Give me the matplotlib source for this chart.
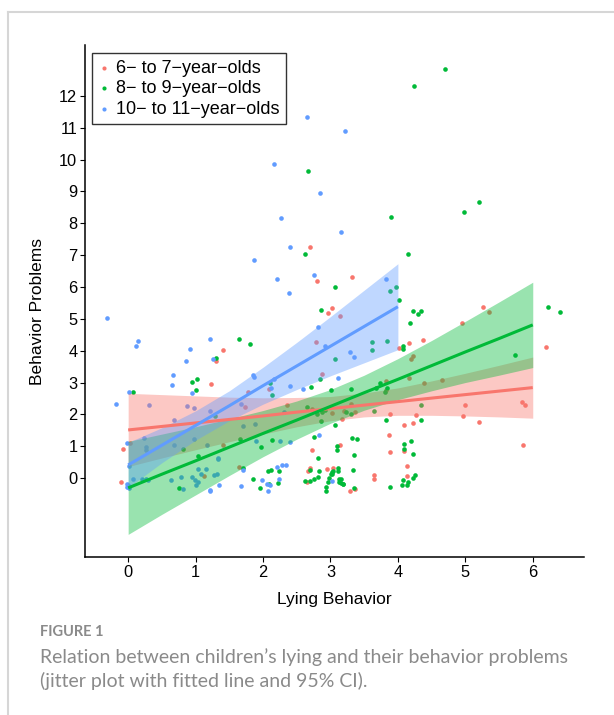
import matplotlib
matplotlib.use('Agg')
import matplotlib.pyplot as plt
from matplotlib.lines import Line2D
import numpy as np

plt.rcParams['font.family'] = ['Liberation Sans', 'DejaVu Sans']

# group names and ggplot-like colours
groups = ['6\u2212 to 7\u2212year\u2212olds', '8\u2212 to 9\u2212year\u2212olds',
          '10\u2212 to 11\u2212year\u2212olds']
colors = ['#F8766D', '#00BA38', '#619CFF']

# jittered points (lying, behavior problems)
red_x = [2.70, 2.80, 3.32, 3.03, 2.97, 3.14, 2.79, 4.01, 4.16, 4.23, 4.19, 2.88, 5.26,
         5.35, 4.95, 6.19, 4.37, 4.17, 4.39, 4.66, 3.83, 3.82, 3.31, 3.03, 3.20, 3.36,
         3.89, 4.27, 4.09, 4.22, 3.17, 5.00, 4.97, 5.20, 5.84, 5.89, 5.86, 3.87, 3.88,
         3.14, 4.09, 4.14, 4.13, 3.65, 3.65, 3.04, 3.37, 3.29, 1.40, 1.30, 1.23, 1.77,
         2.09, 0.03, -0.07, -0.11, 1.40, 1.64, 1.13, 2.72, 2.65, 2.69, 2.67, 2.95, 2.35,
         2.72, 1.74]
red_y = [7.26, 6.18, 6.32, 5.34, 5.17, 5.09, 4.28, 4.09, 4.23, 3.83, 3.73, 3.27, 5.37,
         5.22, 4.87, 4.11, 4.34, 3.15, 2.98, 3.08, 3.05, 2.76, 2.32, 2.05, 2.10, 2.06,
         2.01, 1.99, 1.68, 1.74, 1.84, 2.29, 1.96, 1.75, 2.38, 2.28, 1.03, 1.34, 0.83,
         1.03, 0.85, 0.37, 0.05, 0.08, -0.03, 0.32, -0.36, -0.41, 4.03, 3.68, 2.96, 2.70,
         2.81, 1.09, 0.91, -0.14, 1.03, 0.34, 0.07, 0.89, -0.12, 0.32, 0.22, 0.29, 2.28,
         2.17, 2.23]

green_x = [2.66, 2.62, 3.07, 4.70, 4.24, 5.20, 4.98, 3.90, 4.15, 3.97, 3.89, 4.02, 2.86,
           4.22, 4.30, 4.35, 4.18, 3.62, 3.84, 3.62, 3.07, 4.08, 4.08, 6.22, 6.40, 5.74,
           3.01, 3.31, 3.74, 3.67, 3.84, 3.81, 3.23, 3.31, 3.64, 3.82, 4.35, 4.35, 3.07,
           3.32, 3.40, 3.10, 3.09, 3.35, 4.09, 4.19, 4.23, 4.09, 4.26, 4.23, 4.07, 4.15,
           4.14, 4.06, 3.88, 3.34, 3.11, 3.11, 3.04, 3.01, 3.12, 3.16, 3.18, 3.12, 3.35,
           1.64, 1.80, 1.31, 0.94, 1.02, 1.01, 0.07, 2.11, 2.14, 2.71, 2.84, 1.29, 0.82,
           1.04, 1.66, 1.97, 2.14, 2.75, 2.81, 2.86, 2.65, 2.80, 2.88, 2.92, 0.75, 1.71,
           1.85, 1.95, 2.07, 2.12, 2.24, 2.22, 2.09, 2.62, 2.70, 2.75, 2.81, 2.83, 2.70,
           2.94, 2.94, 2.97, 2.98, 3.02, 3.03, 3.15, 3.19]
green_y = [9.63, 7.05, 5.99, 12.85, 12.32, 8.67, 8.37, 8.19, 7.05, 6.01, 5.88, 5.59, 5.28,
           5.26, 5.14, 5.24, 4.86, 4.28, 4.30, 4.03, 3.74, 4.15, 4.05, 5.37, 5.22, 3.86,
           2.76, 2.80, 2.97, 2.82, 2.82, 2.70, 2.06, 2.01, 2.11, 1.83, 2.29, 1.83, 1.67,
           1.27, 1.23, 1.00, 0.88, 0.71, 1.08, 1.15, 0.75, 0.92, 0.10, 0.00, -0.06, -0.14,
           -0.22, -0.22, -0.28, 0.25, 0.32, 0.22, 0.21, 0.13, -0.04, -0.04, -0.19, -0.14,
           -0.31, 4.36, 4.21, 3.77, 3.01, 3.10, 2.76, 2.70, 2.98, 2.61, 2.86, 3.12, 1.95,
           0.90, 0.70, 1.22, 0.98, 1.19, 1.28, 0.62, 1.79, 2.24, 2.01, 2.07, 2.14, -0.31,
           0.32, -0.02, -0.32, 0.21, 0.26, 0.21, -0.17, -0.18, -0.10, -0.10, -0.02, 0.04,
           0.22, 0.24, -0.27, -0.40, -0.13, -0.01, 0.12, 0.18, -0.16, -0.19]

blue_x = [2.65, 3.21, 2.16, 2.84, 2.26, 3.15, 2.40, 1.86, 2.21, 2.75, 3.82, 2.39, -0.31,
          2.81, 2.92, 3.29, 3.35, 3.11, 0.11, 0.15, 1.21, 0.92, 0.86, 1.26, 0.67, 0.65,
          0.95, -0.18, 0.01, 1.85, 1.87, 2.16, 2.12, 2.40, 2.60, 0.31, 0.87, 0.97, 1.21,
          1.67, 0.68, 0.23, -0.01, 0.26, 0.27, 0.68, 0.98, 1.17, 1.33, 1.33, 1.71, 1.88,
          1.90, 1.70, 2.25, 2.40, 2.83, 2.31, 0.01, -0.02, 0.01, 0.01, -0.02, 0.07, 0.21,
          0.27, 0.30, 0.63, 0.79, 0.81, 0.94, 0.99, 1.04, 1.01, 1.03, 1.15, 1.08, 1.27,
          1.32, 1.22, 1.22, 1.34, 1.68, 1.98, 2.06, 2.11, 2.20, 2.28, 2.34, 2.24, 2.07,
          3.03]
blue_y = [11.35, 10.90, 9.87, 8.96, 8.16, 7.72, 7.27, 6.84, 6.24, 6.37, 6.26, 5.82, 5.03,
          4.73, 4.16, 3.95, 3.81, 3.14, 4.14, 4.30, 4.37, 4.04, 3.66, 3.73, 3.24, 2.92,
          2.66, 2.32, 2.69, 3.24, 3.16, 3.10, 2.84, 2.89, 2.79, 2.30, 2.25, 2.19, 2.11,
          2.33, 1.82, 1.26, 1.09, 0.98, 0.88, 1.04, 1.22, 1.03, 0.64, 0.59, 1.63, 1.70,
          1.15, 0.25, 1.15, 1.12, 1.36, 2.08, 0.38, -0.19, -0.24, -0.32, -0.29, -0.03,
          -0.02, -0.02, -0.06, -0.06, 0.02, -0.36, 0.03, -0.06, -0.13, -0.23, 0.29, 0.29,
          0.12, 0.08, 0.13, -0.37, -0.41, -0.23, -0.24, -0.06, -0.18, -0.21, 0.35, 0.40,
          0.40, -0.04, -0.40, -0.08]

# fitted lines with 95% CI, read at steps of 0.5
fit_x = [0, 0.5, 1, 1.5, 2, 2.5, 3, 3.5, 4, 4.5, 5, 5.5, 6]
red_fit = [1.51, 1.62, 1.73, 1.84, 1.95, 2.07, 2.18, 2.29, 2.40, 2.51, 2.62, 2.73, 2.84]
red_lo = [0.36, 0.63, 0.89, 1.14, 1.38, 1.61, 1.80, 1.92, 1.97, 1.97, 1.95, 1.92, 1.88]
red_hi = [2.66, 2.62, 2.58, 2.54, 2.52, 2.53, 2.56, 2.67, 2.83, 3.05, 3.29, 3.54, 3.80]
green_fit = [-0.31, 0.12, 0.54, 0.97, 1.40, 1.82, 2.25, 2.68, 3.10, 3.53, 3.96, 4.38, 4.81]
green_lo = [-1.77, -1.14, -0.53, 0.08, 0.67, 1.22, 1.72, 2.13, 2.46, 2.74, 3.00, 3.23, 3.47]
green_hi = [1.15, 1.38, 1.61, 1.86, 2.12, 2.42, 2.78, 3.23, 3.75, 4.32, 4.92, 5.53, 6.15]
blue_fit_x = [0, 0.5, 1, 1.5, 2, 2.5, 3, 3.5, 4]
blue_fit = [0.41, 1.03, 1.65, 2.27, 2.90, 3.52, 4.14, 4.76, 5.38]
blue_lo = [-0.30, 0.48, 1.19, 1.80, 2.32, 2.78, 3.21, 3.62, 4.03]
blue_hi = [1.12, 1.58, 2.11, 2.74, 3.48, 4.26, 5.07, 5.90, 6.73]

x_ticks = [0, 1, 2, 3, 4, 5, 6]
y_ticks = list(range(0, 13))

fig = plt.figure(figsize=(6.14, 7.15), dpi=100)
ax = fig.add_axes([85/614, 1 - 557/715, (584-85)/614, (557-45)/715])

pts = [(red_x, red_y), (green_x, green_y), (blue_x, blue_y)]
for (px, py), c, lab in zip(pts, colors, groups):
    ax.scatter(px, py, s=11, color=c, linewidths=0, zorder=2, label=lab)

fits = [(fit_x, red_fit, red_lo, red_hi),
        (fit_x, green_fit, green_lo, green_hi),
        (blue_fit_x, blue_fit, blue_lo, blue_hi)]
for (fx, fy, lo, hi), c in zip(fits, colors):
    ax.fill_between(fx, lo, hi, color=c, alpha=0.4, linewidth=0, zorder=3)
for (fx, fy, lo, hi), c in zip(fits, colors):
    ax.plot(fx, fy, color=c, lw=2.2, zorder=4, solid_capstyle='butt')

ax.set_xlim(-0.64, 6.76)
ax.set_ylim(-2.48, 13.6)
ax.set_xticks(x_ticks)
ax.set_yticks(y_ticks)
ax.tick_params(labelsize=11.8, length=3.5, width=0.8, pad=2, colors='black')
for s in ['top', 'right']:
    ax.spines[s].set_visible(False)
for s in ['left', 'bottom']:
    ax.spines[s].set_linewidth(1.1)

ax.set_xlabel('Lying Behavior', fontsize=12.5)
ax.set_ylabel('Behavior Problems', fontsize=12.5)
ax.xaxis.set_label_coords(0.5, -0.068)
ax.yaxis.set_label_coords(-0.081, 0.48)

leg = ax.legend(loc='upper left', bbox_to_anchor=(0.014, 0.984), borderaxespad=0,
                fontsize=13, frameon=True, fancybox=False, handlelength=0.6,
                handletextpad=0.4, labelspacing=0.2, borderpad=0.35, markerscale=0.9)
leg.get_frame().set_edgecolor('black')
leg.get_frame().set_linewidth(1.0)

# page frame and caption
fig.add_artist(Line2D([7.5/614, 7.5/614], [0, 1 - 12/715], color='#d6d6d6', lw=1.5))
fig.add_artist(Line2D([7.5/614, 1], [1 - 12/715, 1 - 12/715], color='#d6d6d6', lw=1.5))
fig.text(40/614, 1 - 632/715, 'FIGURE 1', fontsize=10.5, fontweight='bold',
         color='#8a8a8a', family=['Lato', 'DejaVu Sans'], va='center')
fig.text(40/614, 1 - 657/715, 'Relation between children\u2019s lying and their behavior problems',
         fontsize=14, color='#8a8a8a', family=['Lato', 'DejaVu Sans'], va='center')
fig.text(40/614, 1 - 681/715, '(jitter plot with fitted line and 95% CI).',
         fontsize=14, color='#8a8a8a', family=['Lato', 'DejaVu Sans'], va='center')

fig.savefig('out.png', dpi=100)
